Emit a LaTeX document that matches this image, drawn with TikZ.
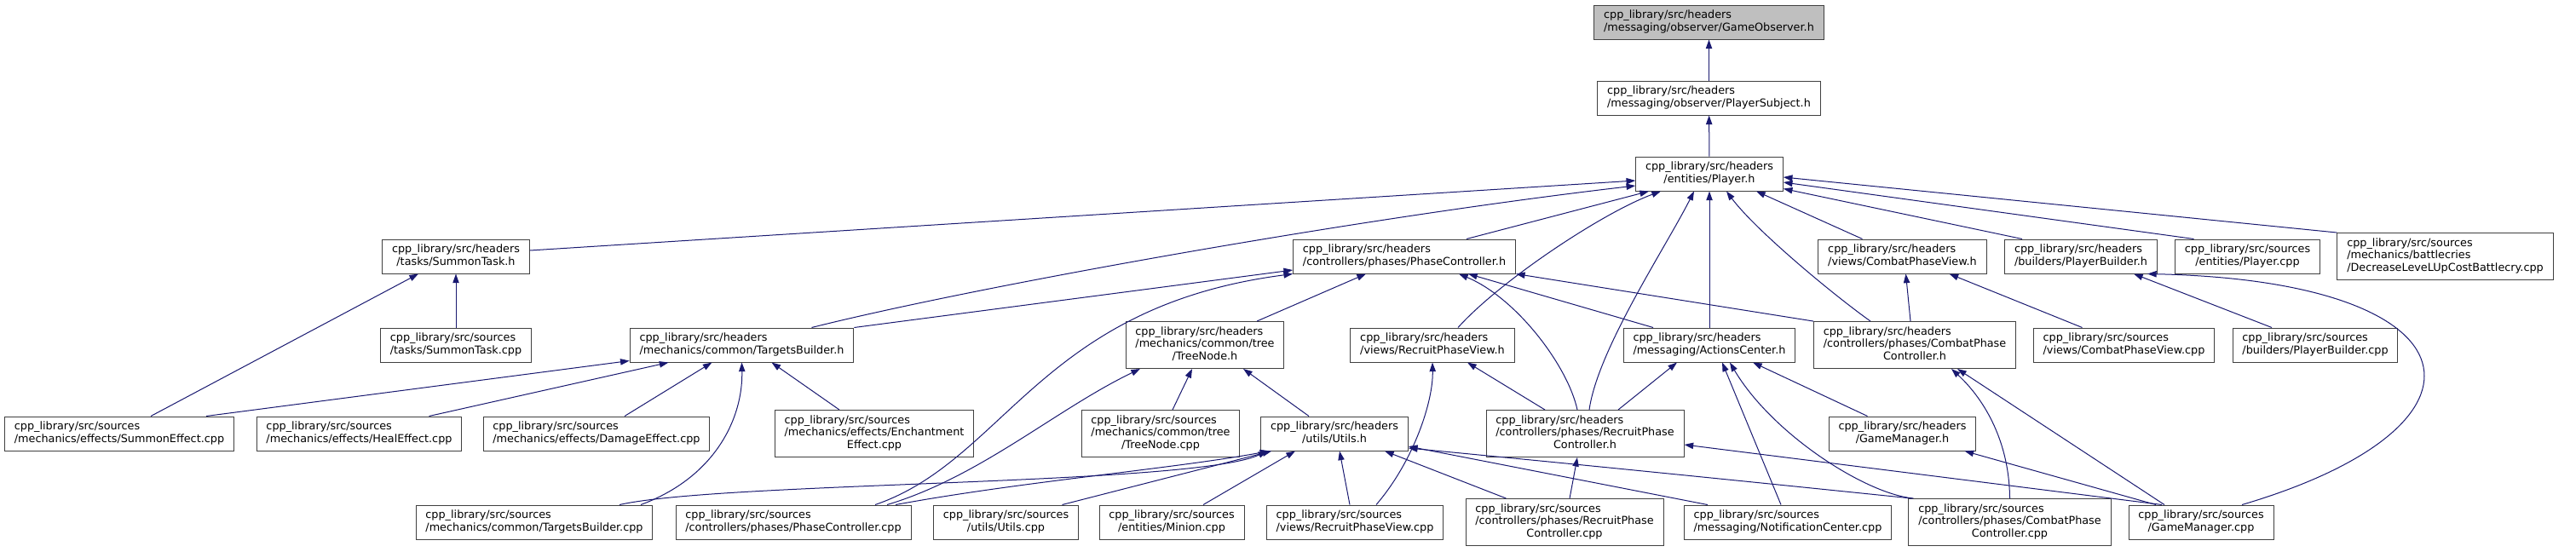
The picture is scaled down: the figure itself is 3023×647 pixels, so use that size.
\documentclass[tikz,border=0pt]{standalone}
\usepackage{fontspec}
\setmainfont{DejaVu Sans}
\usetikzlibrary{arrows.meta, calc}
\definecolor{edgeblue}{RGB}{25,25,112}
\newcommand{\twoln}[2]{\begin{tabular}{@{}l@{}}#1\\\multicolumn{1}{@{}c@{}}{#2}\end{tabular}}
\newcommand{\threeln}[3]{\begin{tabular}{@{}l@{}}#1\\#2\\\multicolumn{1}{@{}c@{}}{#3}\end{tabular}}
\newcommand{\hdr}{cpp\_library/src/headers}
\newcommand{\src}{cpp\_library/src/sources}
\tikzset{
  file/.style={draw=black!75, fill=white, line width=0.75pt, inner xsep=8.5pt, inner ysep=3.8pt, minimum height=30pt, font=\fontsize{9.6}{11.2}\selectfont},
  current/.style={file, fill=black!25},
  dep/.style={-{Triangle[length=8pt,width=5.5pt]}, draw=edgeblue, line width=0.75pt}
}

\begin{document}
\begin{tikzpicture}[x=0.75pt, y=-0.75pt]
\useasboundingbox (0,0) rectangle (3023,647);
% top chain
\node[current] (go) at (2005.5,26) {\twoln{\hdr}{/messaging/observer/GameObserver.h}};
\node[file] (ps) at (2005.5,115) {\twoln{\hdr}{/messaging/observer/PlayerSubject.h}};
\node[file] (player) at (2006,204) {\twoln{\hdr}{/entities/Player.h}};
% row 4
\node[file] (stH) at (535,301) {\twoln{\hdr}{/tasks/SummonTask.h}};
\node[file] (pcH) at (1648,301) {\twoln{\hdr}{/controllers/phases/PhaseController.h}};
\node[file] (cpvH) at (2232.5,301) {\twoln{\hdr}{/views/CombatPhaseView.h}};
\node[file] (pbH) at (2442,301) {\twoln{\hdr}{/builders/PlayerBuilder.h}};
\node[file] (playerC) at (2637.5,301) {\twoln{\src}{/entities/Player.cpp}};
\node[file] (dlc) at (2869.5,301) {\threeln{\src}{/mechanics/battlecries}{/DecreaseLeveLUpCostBattlecry.cpp}};
% row 5
\node[file] (stC) at (535,405) {\twoln{\src}{/tasks/SummonTask.cpp}};
\node[file] (tbH) at (870.5,405) {\twoln{\hdr}{/mechanics/common/TargetsBuilder.h}};
\node[file] (tnH) at (1414,405) {\threeln{\hdr}{/mechanics/common/tree}{/TreeNode.h}};
\node[file] (rpvH) at (1681,405) {\twoln{\hdr}{/views/RecruitPhaseView.h}};
\node[file] (acH) at (2006,405) {\twoln{\hdr}{/messaging/ActionsCenter.h}};
\node[file] (cpcH) at (2247,405) {\threeln{\hdr}{/controllers/phases/CombatPhase}{Controller.h}};
\node[file] (cpvC) at (2492.5,405) {\twoln{\src}{/views/CombatPhaseView.cpp}};
\node[file] (pbC) at (2717,405) {\twoln{\src}{/builders/PlayerBuilder.cpp}};
% row 6
\node[file] (seC) at (140,509) {\twoln{\src}{/mechanics/effects/SummonEffect.cpp}};
\node[file] (heC) at (421.5,509) {\twoln{\src}{/mechanics/effects/HealEffect.cpp}};
\node[file] (deC) at (700,509) {\twoln{\src}{/mechanics/effects/DamageEffect.cpp}};
\node[file] (eeC) at (1026,509) {\threeln{\src}{/mechanics/effects/Enchantment}{Effect.cpp}};
\node[file] (tnC) at (1362,509) {\threeln{\src}{/mechanics/common/tree}{/TreeNode.cpp}};
\node[file] (utH) at (1566,509) {\twoln{\hdr}{/utils/Utils.h}};
\node[file] (rpcH) at (1860,509) {\threeln{\hdr}{/controllers/phases/RecruitPhase}{Controller.h}};
\node[file] (gmH) at (2232.5,509) {\twoln{\hdr}{/GameManager.h}};
% row 7
\node[file] (tbC) at (627,613) {\twoln{\src}{/mechanics/common/TargetsBuilder.cpp}};
\node[file] (pcC) at (931,613) {\twoln{\src}{/controllers/phases/PhaseController.cpp}};
\node[file] (utC) at (1180.5,613) {\twoln{\src}{/utils/Utils.cpp}};
\node[file] (miC) at (1375,613) {\twoln{\src}{/entities/Minion.cpp}};
\node[file] (rpvC) at (1590,613) {\twoln{\src}{/views/RecruitPhaseView.cpp}};
\node[file] (rpcC) at (1836,613) {\threeln{\src}{/controllers/phases/RecruitPhase}{Controller.cpp}};
\node[file] (ncC) at (2098,613) {\twoln{\src}{/messaging/NotificationCenter.cpp}};
\node[file] (cpcC) at (2358.5,613) {\threeln{\src}{/controllers/phases/CombatPhase}{Controller.cpp}};
\node[file] (gmC) at (2583,613) {\twoln{\src}{/GameManager.cpp}};

\draw[dep] (ps) -- (go);
\draw[dep] (player) -- (ps);
% into Player.h
\draw[dep] ($(stH.east)+(0,-7)$) -- ($(player.west)+(0,8)$);
\draw[dep] ($(tbH.north)+(82,0)$) .. controls (1150,335) and (1600,255) .. ($(player.west)+(0,14)$);
\draw[dep] ($(pcH.north)+(73,0)$) -- ($(player.south)+(-71,0)$);
\draw[dep] ($(rpvH.north)+(30,0)$) .. controls (1760,330) and (1880,250) .. ($(player.south)+(-57,0)$);
\draw[dep] ($(rpcH.north)+(5,0)$) .. controls (1875,410) and (1955,290) .. ($(player.south)+(-18,0)$);
\draw[dep] (acH) -- (player);
\draw[dep] ($(cpcH.north)+(-52,0)$) .. controls (2150,345) and (2060,270) .. ($(player.south)+(20,0)$);
\draw[dep] ($(cpvH.north)+(-47,0)$) -- ($(player.south)+(55,0)$);
\draw[dep] ($(pbH.north)+(-69,0)$) -- ($(player.south east)+(0,-3)$);
\draw[dep] ($(playerC.north)+(-63,0)$) -- ($(player.east)+(0,10)$);
\draw[dep] (dlc.north west) -- ($(player.east)+(0,4)$);
% into PhaseController.h
\draw[dep] (tbH.north east) -- ($(pcH.west)+(0,16)$);
\draw[dep] ($(pcC.north)+(96,0)$) .. controls (1180,540) and (1220,360) .. (pcH.south west);
\draw[dep] ($(tnH.north)+(61,0)$) -- ($(pcH.south)+(-45,0)$);
\draw[dep] ($(rpcH.north)+(-9,0)$) .. controls (1840,430) and (1780,350) .. ($(pcH.south)+(64,0)$);
\draw[dep] ($(acH.north)+(-66,0)$) -- ($(pcH.south)+(75,0)$);
\draw[dep] (cpcH.north west) -- (pcH.south east);
% into SummonTask.h and TargetsBuilder.h
\draw[dep] (stC) -- (stH);
\draw[dep] ($(seC.north)+(37,0)$) -- ($(stH.south)+(-44,0)$);
\draw[dep] ($(seC.north)+(102,0)$) -- ($(tbH.south west)+(0,-2)$);
\draw[dep] ($(heC.north)+(82,0)$) -- ($(tbH.south)+(-86,0)$);
\draw[dep] ($(deC.north)+(33,0)$) -- ($(tbH.south)+(-35,0)$);
\draw[dep] ($(tbC.north)+(125,0)$) .. controls (840,560) and (872,490) .. (tbH.south);
\draw[dep] ($(eeC.north)+(-41,0)$) -- ($(tbH.south)+(35,0)$);
% into TreeNode.h and RecruitPhaseView.h
\draw[dep] ($(pcC.north)+(110,0)$) .. controls (1150,560) and (1240,480) .. ($(tnH.south)+(-76,0)$);
\draw[dep] ($(tnC.north)+(14,0)$) -- ($(tnH.south)+(-15,0)$);
\draw[dep] ($(utH.north)+(-30,0)$) -- ($(tnH.south)+(45,0)$);
\draw[dep] ($(rpvC.north)+(25,0)$) .. controls (1660,540) and (1682,470) .. (rpvH.south);
\draw[dep] ($(rpcH.north)+(-47,0)$) -- ($(rpvH.south)+(41,0)$);
% into ActionsCenter.h
\draw[dep] ($(rpcH.north)+(39,0)$) -- ($(acH.south)+(-38,0)$);
\draw[dep] ($(ncC.north)+(-8,0)$) -- ($(acH.south)+(15,0)$);
\draw[dep] ($(cpcC.north west)+(6,0)$) .. controls (2190,580) and (2080,510) .. ($(acH.south)+(24,0)$);
\draw[dep] ($(gmH.north)+(-41,0)$) -- ($(acH.south)+(51,0)$);
% into the views, builders and controllers
\draw[dep] ($(cpcH.north)+(-5,0)$) -- ($(cpvH.south)+(4,0)$);
\draw[dep] ($(cpvC.north)+(-49,0)$) -- ($(cpvH.south)+(55,0)$);
\draw[dep] ($(pbC.north)+(-51,0)$) -- ($(pbH.south)+(62,0)$);
\draw[dep] ($(gmC.north)+(48,0)$) .. controls (2945,500) and (2915,330) .. ($(pbH.south)+(78,0)$);
\draw[dep] (cpcC.north) .. controls (2358,520) and (2330,470) .. ($(cpcH.south)+(43,0)$);
\draw[dep] ($(gmC.north)+(-43,0)$) -- ($(cpcH.south)+(50,0)$);
\draw[dep] ($(gmC.north)+(-53,0)$) -- ($(gmH.south)+(73,0)$);
\draw[dep] ($(rpcC.north)+(6,0)$) -- ($(rpcH.south)+(-9,0)$);
\draw[dep] ($(gmC.north)+(-46,0)$) -- ($(rpcH.east)+(0,13)$);
% into Utils.h
\draw[dep] ($(tbC.north)+(100,0)$) .. controls (850,565) and (1400,570) .. ($(utH.south west)+(8,0)$);
\draw[dep] ($(pcC.north)+(120,0)$) .. controls (1200,565) and (1380,550) .. ($(utH.south west)+(10,0)$);
\draw[dep] ($(utC.north)+(66,0)$) -- ($(utH.south west)+(13,0)$);
\draw[dep] ($(miC.north)+(37,0)$) -- ($(utH.south)+(-46,0)$);
\draw[dep] ($(rpvC.north)+(-6,0)$) -- ($(utH.south)+(6,0)$);
\draw[dep] ($(rpcC.north west)+(48,0)$) -- ($(utH.south)+(59,0)$);
\draw[dep] ($(ncC.north west)+(28,0)$) -- ($(utH.east)+(0,15)$);
\draw[dep] ($(cpcC.north west)+(4,0)$) .. controls (2000,560) and (1850,545) .. ($(utH.east)+(0,17)$);
\end{tikzpicture}
\end{document}
